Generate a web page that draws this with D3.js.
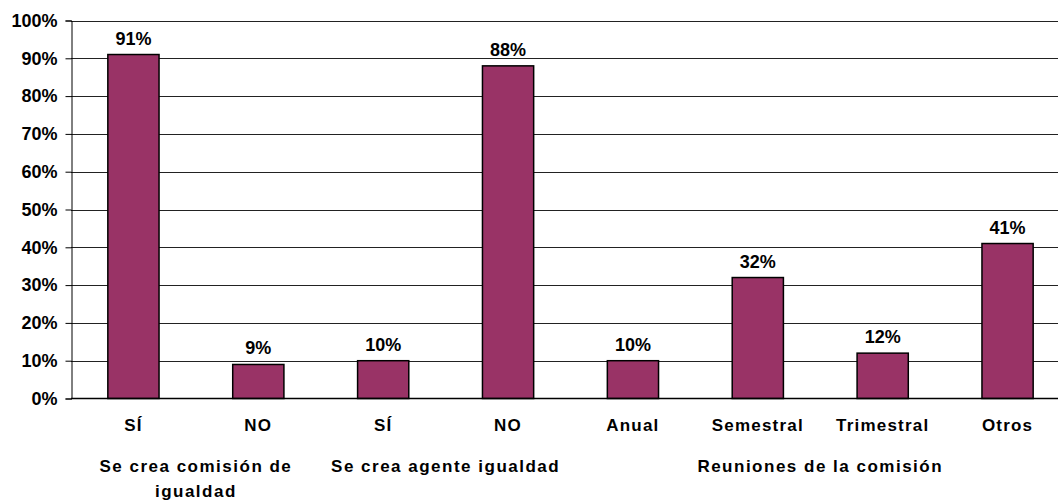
<!DOCTYPE html>
<html>
<head>
<meta charset="utf-8">
<script src="https://cdn.jsdelivr.net/npm/d3@7"></script>
<style>
  body { margin: 0; background: #fff; }
  svg { display: block; font-family: "Liberation Sans", Arial, sans-serif; font-weight: bold; }
</style>
</head>
<body>
<svg id="chart" width="1058" height="503"></svg>
<script>
(function() {

  // data
  const categories = ['SÍ', 'NO', 'SÍ', 'NO', 'Anual', 'Semestral', 'Trimestral', 'Otros']
  const values = [91, 9, 10, 88, 10, 32, 12, 41]
  const groups = [
    { lines: ['Se crea comisión de', 'igualdad'], from: 0, to: 1 },
    { lines: ['Se crea agente igualdad'], from: 2, to: 3 },
    { lines: ['Reuniones de la comisión'], from: 4, to: 7 }
  ]
  const yTicks = [0, 10, 20, 30, 40, 50, 60, 70, 80, 90, 100]

  const
    left = 71,
    right = 1070,
    top = 20.5,
    bottom = 398.5

  const svg = d3.select('#chart')

  const x = d3.scaleBand()
    .domain(d3.range(categories.length))
    .range([left, right])
    .paddingInner(0.59)
    .paddingOuter(0.295)

  const y = d3.scaleLinear()
    .domain([0, 100])
    .range([bottom, top])

  // gridlines
  svg.append('g')
    .selectAll('line')
    .data(yTicks.filter(d => d > 0))
    .join('line')
    .attr('x1', left)
    .attr('x2', 1058)
    .attr('y1', d => Math.round(y(d)) + 0.5)
    .attr('y2', d => Math.round(y(d)) + 0.5)
    .attr('stroke', '#222')
    .attr('stroke-width', 1)

  // y axis
  const yAxis = svg.append('g')
    .attr('transform', 'translate(' + (left + 0.5) + ',0)')
    .call(d3.axisLeft(y).tickValues(yTicks).tickSize(6).tickPadding(8).tickFormat(d => d + '%'))

  yAxis.select('.domain').attr('stroke', '#000')
  yAxis.selectAll('.tick line').attr('stroke', '#000')
  yAxis.selectAll('text')
    .attr('font-family', '"Liberation Sans", Arial, sans-serif')
    .attr('font-size', 18)
    .attr('font-weight', 'bold')
    .attr('fill', '#000')

  // bars
  svg.append('g')
    .selectAll('rect')
    .data(values)
    .join('rect')
    .attr('x', (d, i) => x(i))
    .attr('y', d => y(d))
    .attr('width', x.bandwidth())
    .attr('height', d => bottom - y(d))
    .attr('fill', '#993366')
    .attr('stroke', '#000')
    .attr('stroke-width', 1.5)

  // baseline
  svg.append('line')
    .attr('x1', left)
    .attr('x2', 1058)
    .attr('y1', bottom)
    .attr('y2', bottom)
    .attr('stroke', '#000')
    .attr('stroke-width', 1.5)

  // value labels
  svg.append('g')
    .selectAll('text')
    .data(values)
    .join('text')
    .attr('x', (d, i) => x(i) + x.bandwidth() / 2)
    .attr('y', d => y(d) - 10)
    .attr('text-anchor', 'middle')
    .attr('font-size', 18)
    .text(d => d + '%')

  // category labels
  svg.append('g')
    .selectAll('text')
    .data(categories)
    .join('text')
    .attr('x', (d, i) => x(i) + x.bandwidth() / 2)
    .attr('y', 431)
    .attr('text-anchor', 'middle')
    .attr('font-size', 17)
    .attr('letter-spacing', 1.2)
    .text(d => d)

  // group labels
  const g = svg.append('g')
    .selectAll('text')
    .data(groups)
    .join('text')
    .attr('text-anchor', 'middle')
    .attr('font-size', 17)
    .attr('letter-spacing', 1.5)

  g.each(function(d) {
    const cx = (x(d.from) + x(d.to) + x.bandwidth()) / 2
    d3.select(this)
      .selectAll('tspan')
      .data(d.lines)
      .join('tspan')
      .attr('x', cx)
      .attr('y', (l, i) => 472 + i * 25)
      .text(l => l)
  })

})();
</script>
</body>
</html>
